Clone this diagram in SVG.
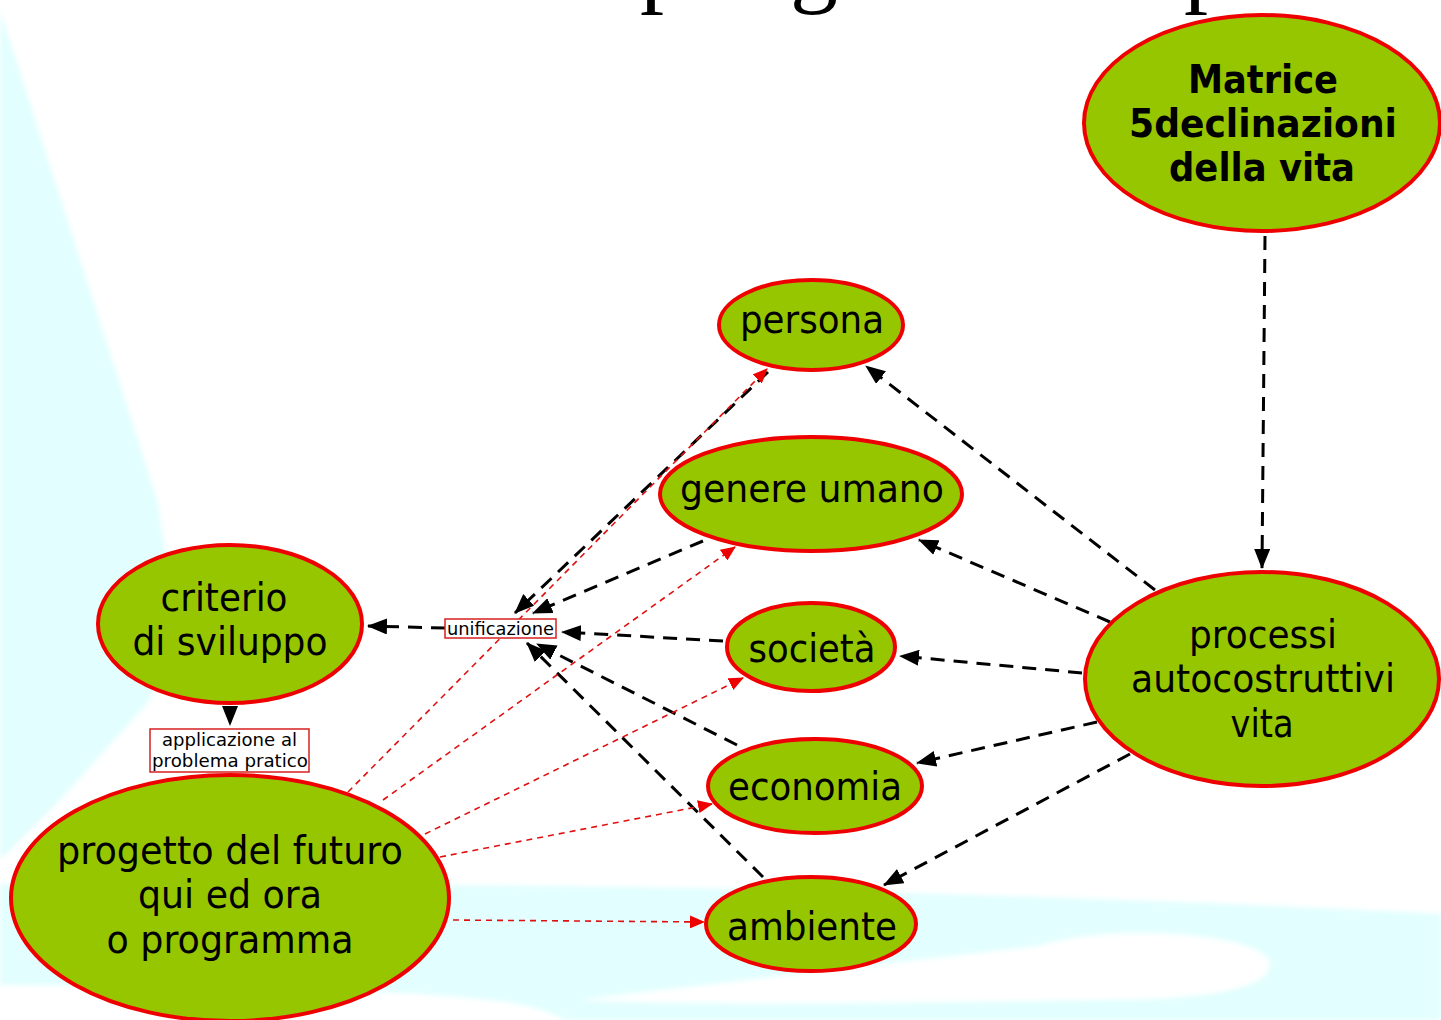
<svg xmlns="http://www.w3.org/2000/svg" width="1441" height="1020" viewBox="0 0 1441 1020">
<style>
.nd{fill:#96c600;stroke:#ee0000;stroke-width:4}
.t{font-family:"DejaVu Sans","Verdana",sans-serif;font-size:39px;fill:#000;text-anchor:middle}
.tb{font-family:"DejaVu Sans","Verdana",sans-serif;font-size:39px;font-weight:bold;fill:#000;text-anchor:middle}
.lb{fill:#fff;stroke:#d62020;stroke-width:1.5}
.lt{font-family:"DejaVu Sans","Verdana",sans-serif;font-size:18px;fill:#000;text-anchor:middle}
.bk{fill:none;stroke:#000;stroke-width:3;stroke-dasharray:14 9;marker-end:url(#ab)}
.rd{fill:none;stroke:#e01010;stroke-width:1.6;stroke-dasharray:6 5;marker-end:url(#ar)}
.bg{fill:#e2fefe}
</style>
<defs>
<marker id="ab" markerUnits="userSpaceOnUse" markerWidth="20" markerHeight="16" refX="19" refY="8" orient="auto" viewBox="0 0 20 16"><path d="M0,0 L20,8 L0,16 z" fill="#000"/></marker>
<marker id="ar" markerUnits="userSpaceOnUse" markerWidth="15" markerHeight="13" refX="14" refY="6.5" orient="auto" viewBox="0 0 15 13"><path d="M0,0 L15,6.5 L0,13 z" fill="#ee0000"/></marker>
<filter id="soft" x="-5%" y="-5%" width="110%" height="110%"><feGaussianBlur stdDeviation="2.5"/></filter>
</defs>
<rect width="1441" height="1020" fill="#fff"/>
<g id="background" filter="url(#soft)">
<path class="bg" d="M0,10 L157,500 L175,610 L150,700 L60,800 L0,860 Z"/>
<path class="bg" d="M0,884 C400,882 900,886 1441,914 L1441,1020 L565,1020 C530,1000 480,988 0,985 Z"/>
<path d="M578,1000 C700,985 900,962 1040,946 C1090,926 1240,928 1268,958 C1282,990 1200,1000 1100,1000 C900,1003 700,1006 578,1000 Z" fill="#fff"/>
</g>
<text id="title" font-family="Liberation Serif,serif" font-size="96" fill="#000" y="-5"><tspan x="640">p</tspan><tspan x="790">g</tspan><tspan x="1184">p</tspan></text>
<g id="connectors">
<path class="bk" d="M1265,236 L1262,568"/>
<path class="bk" d="M1155,590 L866,366"/>
<path class="bk" d="M1110,622 L919,540"/>
<path class="bk" d="M1082,673 L900,656"/>
<path class="bk" d="M1097,722 L917,763"/>
<path class="bk" d="M1130,754 L884,885"/>
<path class="bk" d="M768,372 L515,613"/>
<path class="bk" d="M703,541 L533,613"/>
<path class="bk" d="M723,641 L562,632"/>
<path class="bk" d="M737,745 L537,644"/>
<path class="bk" d="M763,877 L527,643"/>
<path class="bk" d="M445,628 L368,626"/>
<path class="bk" d="M230,706 L230,725"/>
<path class="rd" d="M348,792 L767,369"/>
<path class="rd" d="M383,800 L735,547"/>
<path class="rd" d="M425,834 L743,678"/>
<path class="rd" d="M440,857 L712,804"/>
<path class="rd" d="M453,920 L704,922"/>
</g>
<g id="matrice">
<ellipse class="nd" cx="1262" cy="123" rx="178" ry="108"/>
<text class="tb" x="1263" y="93" textLength="150" lengthAdjust="spacingAndGlyphs">Matrice</text>
<text class="tb" x="1263" y="137" textLength="268" lengthAdjust="spacingAndGlyphs">5declinazioni</text>
<text class="tb" x="1262" y="181" textLength="186" lengthAdjust="spacingAndGlyphs">della vita</text>
</g>
<g id="processi">
<ellipse class="nd" cx="1262" cy="679" rx="177" ry="107"/>
<text class="t" x="1263" y="648" textLength="148" lengthAdjust="spacingAndGlyphs">processi</text>
<text class="t" x="1263" y="692" textLength="264" lengthAdjust="spacingAndGlyphs">autocostruttivi</text>
<text class="t" x="1262" y="737" textLength="63" lengthAdjust="spacingAndGlyphs">vita</text>
</g>
<g id="persona">
<ellipse class="nd" cx="811" cy="325" rx="92" ry="45"/>
<text class="t" x="812" y="333" textLength="144" lengthAdjust="spacingAndGlyphs">persona</text>
</g>
<g id="genere">
<ellipse class="nd" cx="811" cy="494" rx="151" ry="57"/>
<text class="t" x="812" y="502" textLength="264" lengthAdjust="spacingAndGlyphs">genere umano</text>
</g>
<g id="societa">
<ellipse class="nd" cx="811" cy="647" rx="84" ry="44"/>
<text class="t" x="812" y="662" textLength="127" lengthAdjust="spacingAndGlyphs">società</text>
</g>
<g id="economia">
<ellipse class="nd" cx="815" cy="786" rx="107" ry="47"/>
<text class="t" x="815" y="800" textLength="174" lengthAdjust="spacingAndGlyphs">economia</text>
</g>
<g id="ambiente">
<ellipse class="nd" cx="811" cy="924" rx="105" ry="47"/>
<text class="t" x="812" y="940" textLength="170" lengthAdjust="spacingAndGlyphs">ambiente</text>
</g>
<g id="criterio">
<ellipse class="nd" cx="230" cy="624" rx="132" ry="79"/>
<text class="t" x="224" y="611" textLength="127" lengthAdjust="spacingAndGlyphs">criterio</text>
<text class="t" x="230" y="655" textLength="195" lengthAdjust="spacingAndGlyphs">di sviluppo</text>
</g>
<g id="progetto">
<ellipse class="nd" cx="230" cy="898" rx="219" ry="123"/>
<text class="t" x="230" y="864" textLength="346" lengthAdjust="spacingAndGlyphs">progetto del futuro</text>
<text class="t" x="230" y="908" textLength="184" lengthAdjust="spacingAndGlyphs">qui ed ora</text>
<text class="t" x="230" y="953" textLength="247" lengthAdjust="spacingAndGlyphs">o programma</text>
</g>
<g id="unificazione">
<rect class="lb" x="445" y="619" width="111" height="19"/>
<text class="lt" x="500.5" y="635" textLength="107" lengthAdjust="spacingAndGlyphs">unificazione</text>
</g>
<g id="applicazione">
<rect class="lb" x="150" y="729" width="159" height="43"/>
<text class="lt" x="229.5" y="746" textLength="135" lengthAdjust="spacingAndGlyphs">applicazione al</text>
<text class="lt" x="230" y="767" textLength="156" lengthAdjust="spacingAndGlyphs">problema pratico</text>
</g>
</svg>
